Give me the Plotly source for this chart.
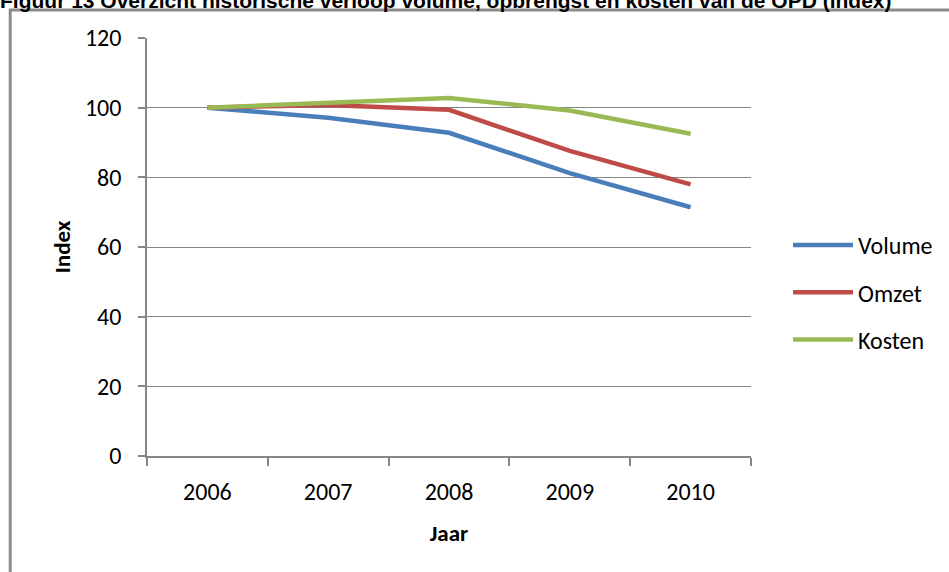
import plotly.graph_objects as go

# Index values (2006 = 100)
years = ["2006", "2007", "2008", "2009", "2010"]
volume = [100, 97.1, 92.8, 81.2, 71.4]
omzet = [100, 100.8, 99.4, 87.6, 78.0]
kosten = [100, 101.5, 102.8, 99.2, 92.5]

series = [
    ("Volume", volume, "#4A7EBB"),
    ("Omzet", omzet, "#BE4B48"),
    ("Kosten", kosten, "#98B954"),
]

y_ticks = [0, 20, 40, 60, 80, 100, 120]

FONT = "Carlito, Lato, 'Open Sans', sans-serif"
GRID = "#868686"

W, H = 949, 572
L, R, T, B = 147, 197, 38, 116
pw, ph = W - L - R, H - T - B


def px_x(x):
    return (x - L) / pw


def px_y(y):
    return (H - B - y) / ph


fig = go.Figure()
for name, vals, color in series:
    fig.add_trace(go.Scatter(
        x=years, y=vals, name=name, mode="lines",
        line=dict(color=color, width=4.5),
        legendgroup=name,
    ))

# outer frame of the figure box
fig.add_shape(type="rect", xref="paper", yref="paper",
              x0=px_x(10), x1=px_x(W + 20), y0=px_y(H + 20), y1=px_y(10),
              line=dict(color="#8C8C8C", width=3), fillcolor="rgba(0,0,0,0)",
              layer="below")

fig.add_annotation(
    text="<b>Figuur 13 Overzicht historische verloop volume, opbrengst en kosten van de OPD (index)</b>",
    xref="paper", yref="paper", x=px_x(-2), y=px_y(14),
    xanchor="left", yanchor="bottom", showarrow=False,
    font=dict(family="Liberation Sans, Arial, sans-serif", size=21, color="#000000"),
)

fig.update_layout(
    width=W, height=H,
    margin=dict(l=L, r=R, t=T, b=B, pad=0),
    paper_bgcolor="white", plot_bgcolor="white",
    font=dict(family=FONT, color="#000000"),
    showlegend=True,
    legend=dict(
        x=px_x(788), y=px_y(223), xanchor="left", yanchor="top",
        font=dict(family=FONT, size=24, color="#000000"),
        tracegroupgap=13, itemwidth=60,
        bgcolor="rgba(0,0,0,0)",
    ),
    xaxis=dict(
        type="category", range=[-0.5, 4.5],
        showline=True, linecolor=GRID, linewidth=1.5,
        ticks="outside", tickson="boundaries", ticklen=8, tickcolor=GRID, tickwidth=1.5,
        tickfont=dict(family=FONT, size=24),
        ticklabelstandoff=13,
        showgrid=False, zeroline=False,
        title=dict(text="<b>Jaar</b>", font=dict(family=FONT, size=23), standoff=20),
    ),
    yaxis=dict(
        range=[0, 120], tickvals=y_ticks,
        showline=True, linecolor=GRID, linewidth=1.5,
        ticks="outside", ticklen=7, tickcolor=GRID, tickwidth=1.5,
        tickfont=dict(family=FONT, size=24),
        ticklabelstandoff=12,
        showgrid=True, gridcolor=GRID, gridwidth=1,
        zeroline=False,
        title=dict(text="<b>Index</b>", font=dict(family=FONT, size=23), standoff=8),
    ),
)

fig.write_html("out.html")
